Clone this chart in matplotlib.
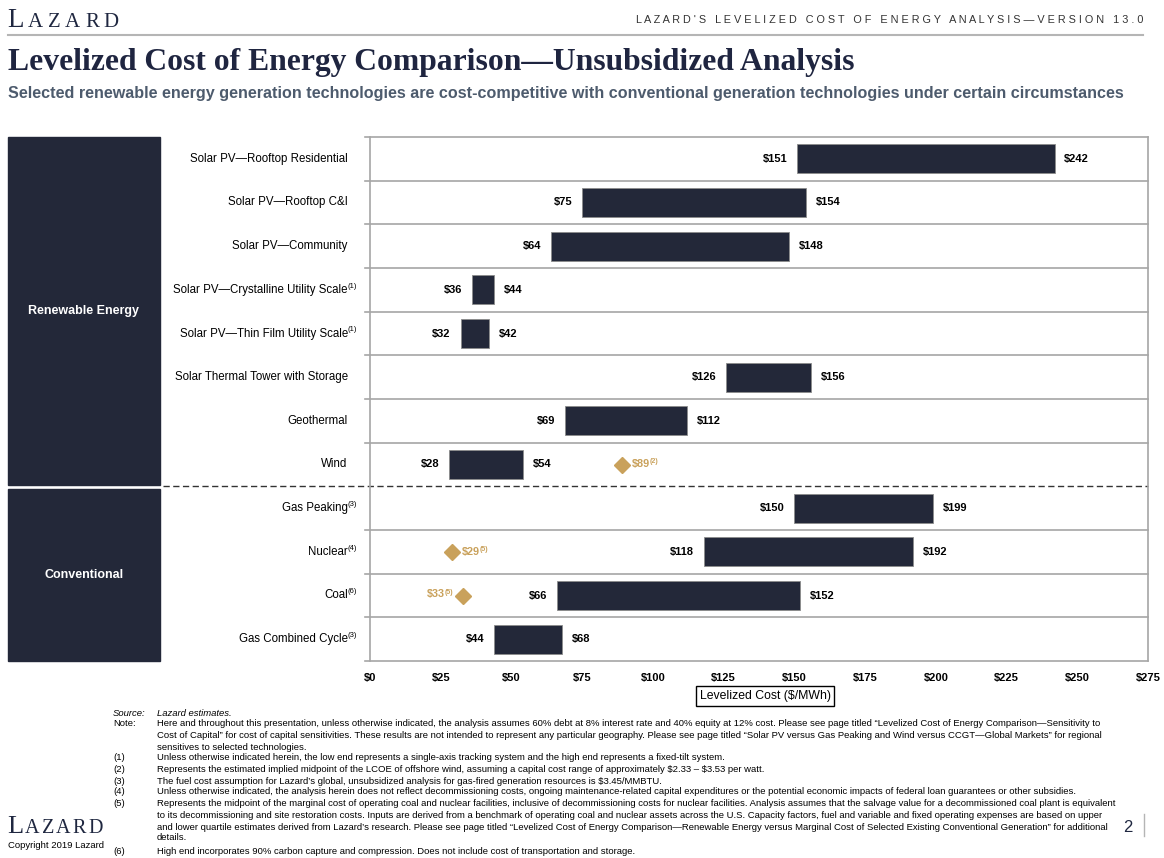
import numpy as np
import matplotlib.pyplot as plt
from matplotlib.patches import Rectangle
import matplotlib.transforms as mtransforms

plt.rcParams['font.family'] = ['Liberation Sans', 'DejaVu Sans']
plt.rcParams['mathtext.fontset'] = 'custom'
plt.rcParams['mathtext.rm'] = 'Liberation Sans'

# data (top to bottom)
techs = ['Solar PV—Rooftop Residential', 'Solar PV—Rooftop C&I', 'Solar PV—Community',
         'Solar PV—Crystalline Utility Scale', 'Solar PV—Thin Film Utility Scale',
         'Solar Thermal Tower with Storage', 'Geothermal', 'Wind',
         'Gas Peaking', 'Nuclear', 'Coal', 'Gas Combined Cycle']
notes = ['', '', '', '(1)', '(1)', '', '', '', '(3)', '(4)', '(6)', '(3)']
low = [151, 75, 64, 36, 32, 126, 69, 28, 150, 118, 66, 44]
high = [242, 154, 148, 44, 42, 156, 112, 54, 199, 192, 152, 68]
n_renew = 8

# diamond markers (row index, value, footnote, label side)
dia_rows = [7, 9, 10]
dia_vals = [89, 29, 33]
dia_notes = ['(2)', '(5)', '(5)']
dia_side = ['right', 'right', 'left']

xticks = [0, 25, 50, 75, 100, 125, 150, 175, 200, 225, 250, 275]

navy = '#232839'
gold = '#c9a15b'
grid_c = '#a6a6a6'

W, H = 1164, 858
fig = plt.figure(figsize=(W / 100, H / 100), dpi=100)
renderer = fig.canvas.get_renderer()

def fx(px):
    return px / W

def fy(py):
    return 1 - py / H

ax = fig.add_axes([fx(370), fy(661), fx(1148) - fx(370), fy(137) - fy(661)])
n = len(techs)
ax.set_xlim(0, 275)
ax.set_ylim(0, n)
ypos = n - 0.5 - np.arange(n)

ax.barh(ypos, np.array(high) - np.array(low), left=low, height=0.66,
        color=navy, edgecolor='#8c8c8c', linewidth=0.6, zorder=3)

for y, lo, hi in zip(ypos, low, high):
    ax.annotate('$%d' % lo, (lo, y), xytext=(-7, 0), textcoords='offset points',
                ha='right', va='center', fontsize=8, fontweight='bold', color='black')
    ax.annotate('$%d' % hi, (hi, y), xytext=(7, 0), textcoords='offset points',
                ha='left', va='center', fontsize=8, fontweight='bold', color='black')

for r, v, nt, side in zip(dia_rows, dia_vals, dia_notes, dia_side):
    y = ypos[r]
    ax.plot(v, y, marker='D', markersize=8.5, color=gold, zorder=4, clip_on=False)
    if side == 'right':
        t = ax.annotate('$%d' % v, (v, y), xytext=(7, 0), textcoords='offset points',
                        ha='left', va='center', fontsize=7.8, color=gold, fontweight='bold')
        ax.annotate(nt, xy=(1, 0.75), xycoords=t, ha='left', va='center',
                    fontsize=5, color=gold, fontweight='bold')
    else:
        s = ax.annotate(nt, (v, y), xytext=(-7, 2.5), textcoords='offset points',
                        ha='right', va='center', fontsize=5, color=gold, fontweight='bold')
        ax.annotate('$%d' % v, xy=(0, 0.25), xycoords=s, ha='right', va='center',
                    fontsize=7.8, color=gold, fontweight='bold')

# row labels
for y, name, nt in zip(ypos, techs, notes):
    t = ax.annotate(name, (0, y), xytext=(-16, 0), textcoords='offset points',
                    ha='right', va='center', fontsize=8.3, color='black')
    if nt:
        ax.annotate(nt, xy=(1, 0.8), xycoords=t, ha='left', va='center', fontsize=5.5)

# grid lines / frame
ytr = ax.get_yaxis_transform()
x0 = (365 - 370) / 778
for k in range(n + 1):
    if k == n - n_renew:
        ax.plot([(163 - 370) / 778, 1], [k, k], transform=ytr, color='#333333',
                lw=1.0, ls=(0, (4.5, 2.5)), clip_on=False, zorder=2)
    else:
        ax.plot([x0, 1], [k, k], transform=ytr, color=grid_c, lw=1.2,
                clip_on=False, zorder=2)
for s in ['top', 'bottom']:
    ax.spines[s].set_visible(False)
for s in ['left', 'right']:
    ax.spines[s].set_color(grid_c)
    ax.spines[s].set_linewidth(1.2)
ax.set_yticks([])
ax.set_xticks(xticks)
ax.set_xticklabels(['$%d' % v for v in xticks], fontsize=8, fontweight='bold')
ax.tick_params(axis='x', length=0, pad=9)
ax.text((765 - 370) / 778, -0.0668, 'Levelized Cost ($/MWh)', transform=ax.transAxes,
        fontsize=8.8, ha='center', va='center',
        bbox=dict(boxstyle='square,pad=0.3', fc='white', ec='black', lw=1))

# group boxes on the left
btr = mtransforms.blended_transform_factory(fig.transFigure, ax.transData)
fig.patches.append(Rectangle((fx(8), n - n_renew + 0.04), fx(160) - fx(8), n_renew - 0.04,
                             transform=btr, color=navy, zorder=0))
fig.patches.append(Rectangle((fx(8), 0), fx(160) - fx(8), n - n_renew - 0.07,
                             transform=btr, color=navy, zorder=0))
fig.text(fx(84), fy(311), 'Renewable Energy', color='white', fontsize=9,
         fontweight='bold', ha='center', va='center')
fig.text(fx(84), fy(575), 'Conventional', color='white', fontsize=9,
         fontweight='bold', ha='center', va='center')

# header
def logo_text(x, y, big, small, gap):
    px = x * W
    for i, ch in enumerate('LAZARD'):
        t = fig.text(px / W, y, ch, fontsize=big if i == 0 else small,
                     family='Liberation Serif', color='#1f2740', ha='left', va='baseline')
        px = t.get_window_extent(renderer).x1 + gap

logo_text(fx(7), fy(27), 19.5, 15, 4.6)
hdr = "LAZARD'S LEVELIZED COST OF ENERGY ANALYSIS—VERSION 13.0"
fig.text(fx(1143), fy(23), ' '.join(hdr), fontsize=7.85, color='#333333',
         ha='right', va='baseline')
fig.add_artist(plt.Line2D([fx(8), fx(1143)], [fy(35), fy(35)], color='#b5b5b5', lw=1.5))
fig.text(fx(8), fy(70), 'Levelized Cost of Energy Comparison—Unsubsidized Analysis',
         fontsize=22.8, family='Liberation Serif', fontweight='bold', color='#1f2540',
         ha='left', va='baseline')
fig.text(fx(8), fy(98), 'Selected renewable energy generation technologies are cost-competitive '
         'with conventional generation technologies under certain circumstances',
         fontsize=11.6, fontweight='bold', color='#4d5b6d', ha='left', va='baseline')

# footnotes
fn = [
    ('Source:', 'Lazard estimates.', True),
    ('Note:', 'Here and throughout this presentation, unless otherwise indicated, the analysis assumes 60% debt at 8% interest rate and 40% equity at 12% cost. Please see page titled \u201cLevelized Cost of Energy Comparison\u2014Sensitivity to', False),
    ('', 'Cost of Capital\u201d for cost of capital sensitivities. These results are not intended to represent any particular geography. Please see page titled \u201cSolar PV versus Gas Peaking and Wind versus CCGT\u2014Global Markets\u201d for regional', False),
    ('', 'sensitives to selected technologies.', False),
    ('(1)', 'Unless otherwise indicated herein, the low end represents a single-axis tracking system and the high end represents a fixed-tilt system.', False),
    ('(2)', 'Represents the estimated implied midpoint of the LCOE of offshore wind, assuming a capital cost range of approximately $2.33 \u2013 $3.53 per watt.', False),
    ('(3)', 'The fuel cost assumption for Lazard\u2019s global, unsubsidized analysis for gas-fired generation resources is $3.45/MMBTU.', False),
    ('(4)', 'Unless otherwise indicated, the analysis herein does not reflect decommissioning costs, ongoing maintenance-related capital expenditures or the potential economic impacts of federal loan guarantees or other subsidies.', False),
    ('(5)', 'Represents the midpoint of the marginal cost of operating coal and nuclear facilities, inclusive of decommissioning costs for nuclear facilities. Analysis assumes that the salvage value for a decommissioned coal plant is equivalent', False),
    ('', 'to its decommissioning and site restoration costs. Inputs are derived from a benchmark of operating coal and nuclear assets across the U.S. Capacity factors, fuel and variable and fixed operating expenses are based on upper', False),
    ('', 'and lower quartile estimates derived from Lazard\u2019s research. Please see page titled \u201cLevelized Cost of Energy Comparison\u2014Renewable Energy versus Marginal Cost of Selected Existing Conventional Generation\u201d for additional', False),
    ('', 'details.', False),
    ('(6)', 'High end incorporates 90% carbon capture and compression. Does not include cost of transportation and storage.', False),
]
fn_y = [713, 724, 736, 747, 758, 769, 781, 792, 803, 815, 827, 838, 851]
for (lab, txt, it), yy in zip(fn, fn_y):
    st = 'italic' if it else 'normal'
    fig.text(fx(113), fy(yy), lab, fontsize=6.82, style=st, va='center', ha='left')
    fig.text(fx(157), fy(yy), txt.replace('$', r'\$'), fontsize=6.82, style=st,
             va='center', ha='left')

logo_text(fx(7), fy(833), 19, 14.5, 2.0)
fig.text(fx(8), fy(846), 'Copyright 2019 Lazard', fontsize=6.8, va='center', ha='left')
fig.text(fx(1128), fy(827), '2', fontsize=12, color='#1f2740', va='center', ha='center')
fig.add_artist(plt.Line2D([fx(1144), fx(1144)], [fy(814), fy(836)], color='#b5b5b5', lw=1))

fig.savefig('out.png', dpi=100)
